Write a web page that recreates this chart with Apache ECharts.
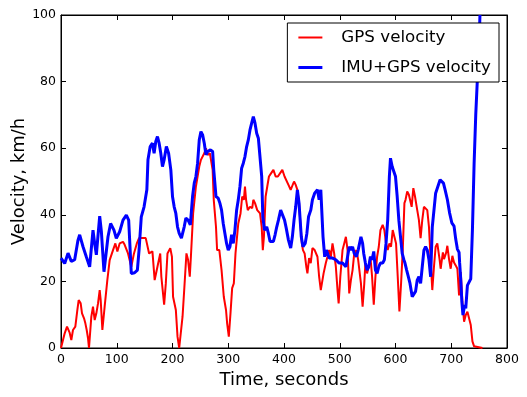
<!DOCTYPE html>
<html>
<head>
<meta charset="utf-8">
<title>Velocity</title>
<script src="https://cdn.jsdelivr.net/npm/echarts@6/dist/echarts.min.js"></script>
<style>
  html, body { margin: 0; padding: 0; background: #fff; }
  #chart { width: 527px; height: 397px; }
</style>
</head>
<body>
<div id="chart"></div>
<script>
// GPS velocity (red)
const gpsTime = [0, 6.6, 10.8, 15.5, 18.5, 21.5, 25.7, 29.3, 31.7, 35.3, 37.7, 41.3, 43.7, 46.1, 48.4, 50.2,
  54.4, 57.4, 60.4, 63.4, 66.4, 69.4, 71.2, 74.2, 78.3, 83.1, 87.3, 93.3, 97.5, 101.1, 105.2, 111.2, 114.2,
  120.2, 126.1, 130.9, 136, 140, 146, 152, 158, 164, 168, 173, 178, 180, 185, 188, 191, 196, 199, 201, 206,
  209, 212, 215, 218, 221, 225, 228, 231, 233, 237, 242, 245, 248, 251, 254, 257, 260, 263, 267, 272, 274,
  278, 280, 284, 288, 292, 296, 298, 301, 304, 307, 310, 313, 318, 322, 325, 328, 330, 332, 335, 339, 343,
  345, 348, 352, 357, 360, 362, 364, 367, 370, 373, 377, 381, 385, 389, 392, 397, 401, 404, 408, 412, 415,
  418, 421, 424, 427, 429, 432, 434, 437, 440, 442, 445, 448, 451, 455, 460, 463, 466, 468, 471, 475, 478,
  481, 484, 487, 490, 493, 496, 498, 501, 505, 508, 511, 514, 517, 520, 523, 526, 530, 533, 538, 541, 544,
  546, 549, 552, 555, 558, 561, 564, 567, 570, 573, 577, 580, 583, 586, 589, 592, 595, 598, 601, 604, 607,
  610, 613, 616, 618, 621, 624, 627, 629, 632, 635, 639, 642, 645, 648, 651, 654, 657, 660, 663, 666, 669,
  672, 675, 679, 681, 685, 687, 691, 693, 696, 699, 702, 705, 708, 711, 714, 717, 720, 723, 726, 729, 732,
  735, 738, 741, 744, 756]
const gpsSpeed = [0, 4.4, 6.4, 4.6, 2.4, 5.4, 6.4, 11.4, 14.4, 13.4, 10.4, 8.9, 7.4, 5.4, 3, 0,
  9.4, 12.4, 8.4, 10.4, 13.4, 17.4, 14.4, 5.4, 12.4, 20.4, 26.4, 29.4, 31.4, 29, 31.4, 31.9, 31,
  28.4, 24.4, 28.4, 31.4, 33, 33, 33, 28.4, 29, 20.4, 24.4, 28.4, 21.4, 13, 19.4, 28.4, 30, 27.4, 15.4, 11.4,
  3.4, 0, 0.5, 9.4, 17.4, 28.4, 26.4, 21.4, 27.4, 40.4, 48.5, 51.5, 54.5, 56.5, 57, 58.5, 60, 58, 58.5, 53.5, 44.5,
  36.4, 29.4, 29.4, 23.4, 15.4, 11.4, 7.4, 3.4, 10.4, 18, 19.4, 28.4, 37.4, 40.4, 45.5, 44.5, 48.5, 44.5, 41.4, 42.4, 42,
  44.5, 43.5, 41.4, 40.4, 36.4, 29.4, 33.4, 45.5, 48.5, 51.5, 52.5, 53.5, 51.5, 51.5, 51.5, 53.5, 51.5, 51.5, 49, 47.5, 48,
  50, 49, 47.5, 43.5, 38.4, 31.4, 29.4, 28.4, 24.4, 22.4, 27, 25.5, 30, 29.4, 27.4, 21.4, 17.4, 19.4, 22.4, 25.5, 27.4,
  29.4, 27.4, 31.4, 28.4, 24.4, 17.4, 13.4, 21.4, 29.4, 31.4, 33.4, 29.4, 16.4, 20.4, 23.4, 28.4, 29.4, 26.5, 19.4, 12.4, 19.4,
  25.5, 22.4, 24.4, 27.4, 21.4, 13, 21.4, 27.4, 30.4, 35.4, 37, 35.4, 31.4, 29.4, 31.4, 30.4, 35.4, 36, 31.4, 21.4, 11,
  19.4, 29.4, 43.5, 44.5, 47, 46, 45.5, 42.4, 48, 45.5, 41.4, 38.4, 33, 38.4, 42.4, 43, 41.4, 36.4, 26.5, 17.4, 24.4,
  30.4, 31.4, 26.7, 23.8, 28.7, 26.7, 28.7, 30.7, 26.7, 23.8, 27.7, 25.7, 24.8, 23.8, 15.8, 22.8, 13.9, 7.9, 9.9, 10.9, 10.4,
  6.9, 2, 0.5, 0, 0]

// IMU+GPS velocity (blue)
const imuTime = [0, 1.8, 6.6, 12.6, 18.5, 24.5, 30.5, 33.5, 39.5, 45.4, 51.4, 57.4, 60.4, 63.4, 69.4, 72.4,
  77.1, 84.3, 89, 95, 99.2, 105.2, 111.2, 117.2, 121.4, 126.1, 132, 137, 140, 144, 149, 154, 156, 160, 164,
  167, 170, 173, 176, 179, 182, 185, 189, 193, 197, 200, 203, 206, 209, 212, 216, 221, 224, 228, 232, 236,
  239, 242, 245, 248, 251, 254, 257, 260, 263, 268, 272, 274, 278, 282, 285, 288, 291, 294, 297, 300, 303,
  306, 309, 312, 315, 318, 321, 324, 327, 330, 333, 336, 339, 342, 345, 348, 351, 354, 357, 360, 362, 365,
  369, 372, 375, 378, 381, 384, 387, 390, 394, 397, 401, 404, 408, 412, 415, 418, 421, 424, 427, 429, 431,
  434, 438, 441, 444, 448, 451, 455, 460, 463, 466, 468, 470, 473, 476, 481, 487, 493, 499, 505, 511, 514,
  517, 520, 523, 526, 530, 533, 538, 541, 543, 546, 549, 552, 555, 558, 561, 564, 567, 570, 573, 577, 580,
  583, 586, 589, 591, 594, 596, 600, 603, 606, 609, 612, 615, 617, 620, 623, 626, 630, 633, 636, 639, 642,
  645, 648, 651, 654, 657, 660, 663, 666, 669, 672, 676, 680, 683, 686, 689, 693, 697, 701, 705, 708, 711,
  714, 715, 717, 719, 721, 724, 726, 729, 732, 735, 738, 741, 744, 747, 750, 751.5]
const imuSpeed = [27, 27.4, 25.4, 28.5, 26, 26.5, 32.4, 34, 30.4, 27.4, 24.4, 35.4, 31.4, 28, 39.6, 35,
  22.9, 33.4, 37.4, 35.4, 32.9, 34.9, 38.4, 39.9, 38.4, 22.4, 22.6, 23.4, 29.4, 39.4, 42.4, 47.5, 56.5, 60.5, 61.5,
  58.5, 62, 63.5, 61.5, 58.5, 54.5, 56.5, 60.5, 58.5, 53.5, 45.5, 42.4, 40.4, 36.4, 34.4, 33, 36.4, 39, 38.4, 37, 45.5,
  49.5, 51.5, 55.5, 62.5, 65, 64, 61.5, 58, 59, 59.5, 59, 53.5, 45.5, 45, 43.5, 41.4, 37.4, 34.4, 31.4, 29.4, 30.4,
  34, 31.4, 35.4, 41.4, 44.5, 48.5, 54, 55.5, 57.5, 60.5, 62.5, 65.5, 67.5, 69.5, 67.5, 64.5, 63, 62.5, 51.5, 39.4, 35.4,
  36.4, 34.4, 32, 31.4, 32, 34, 36.4, 38.4, 41.4, 41.4, 38.4, 36, 32.4, 30, 33.4, 38.4, 42.4, 47.5, 43.5, 38.4, 33.4,
  30.4, 31.4, 34.4, 39.4, 41.4, 44.5, 46.5, 47.5, 44.5, 47.5, 47, 33.4, 27.4, 29.4, 27, 27, 26.5, 25.5, 25.5, 24.4, 27.4,
  30.4, 29.4, 30.4, 28.4, 27.4, 29.4, 33.4, 31.4, 28.4, 25.5, 23.4, 24.4, 27.4, 26.5, 29, 23.4, 22.4, 24.4, 25.5, 25.5, 26.5,
  31.4, 38.4, 51.5, 57, 54.5, 54, 51.5, 45.5, 38.4, 33.4, 28.4, 26.5, 25.5, 23.4, 21.4, 19.4, 15.4, 15.4, 17, 20.4, 21.4,
  19.4, 24.4, 29.4, 30.4, 29.4, 26.5, 21.4, 36.4, 41.4, 46.5, 48.5, 50.5, 51, 49.5, 47.5, 44.6, 40.6, 37.6, 36.6, 32.7, 29.7,
  28.7, 25.7, 20.8, 13.9, 9.9, 12.9, 11.9, 18.8, 19.8, 20.8, 35.6, 55.4, 70.3, 81.2, 92, 100]

const xTicks = { min: 0, max: 800, interval: 100 }
const yTicks = { min: 0, max: 100, interval: 20 }

const font = 'DejaVu Sans'

function pairs (xs, ys) {
  return xs.map((x, i) => [x, ys[i]])
}

const chart = echarts.init(document.getElementById('chart'), null, { renderer: 'canvas' })

const tickStyle = {
  show: true,
  inside: true,
  length: 5,
  lineStyle: { color: '#000', width: 1 }
}
const axisLine = { show: true, onZero: false, lineStyle: { color: '#000', width: 1 } }

const option = {
  animation: false,
  backgroundColor: '#fff',
  grid: {
    left: 61,
    right: 20,
    top: 15,
    bottom: 49,
    containLabel: false,
    outerBoundsMode: 'none',
    show: true,
    borderColor: '#000',
    borderWidth: 1
  },
  legend: {
    orient: 'vertical',
    right: 28,
    top: 23,
    padding: [6, 8, 6, 11],
    itemWidth: 24,
    itemHeight: 16,
    itemGap: 13,
    borderColor: '#000',
    borderWidth: 1,
    borderRadius: 0,
    backgroundColor: '#fff',
    textStyle: {
      fontFamily: font,
      fontSize: 16.7,
      color: '#000',
      lineHeight: 16,
      padding: [0, 0, 0, 14]
    },
    // flat line icons, 2px red and 3px blue like the plotted lines
    data: [
      { name: 'GPS velocity', icon: 'path://M0 0H24V2H0Z' },
      { name: 'IMU+GPS velocity', icon: 'path://M0 0H24V3H0Z' }
    ]
  },
  xAxis: [
    {
      type: 'value',
      min: xTicks.min,
      max: xTicks.max,
      interval: xTicks.interval,
      name: 'Time, seconds',
      nameLocation: 'middle',
      nameGap: 23,
      nameMoveOverlap: false,
      nameTextStyle: { fontFamily: font, fontSize: 18, color: '#000' },
      axisLine: axisLine,
      axisTick: tickStyle,
      splitLine: { show: false },
      axisLabel: { fontFamily: font, fontSize: 12.5, color: '#000', margin: 5 }
    },
    {
      type: 'value',
      position: 'top',
      min: xTicks.min,
      max: xTicks.max,
      interval: xTicks.interval,
      axisLine: axisLine,
      axisTick: tickStyle,
      splitLine: { show: false },
      axisLabel: { show: false }
    }
  ],
  yAxis: [
    {
      type: 'value',
      min: yTicks.min,
      max: yTicks.max,
      interval: yTicks.interval,
      name: 'Velocity, km/h',
      nameLocation: 'middle',
      nameGap: 33,
      nameMoveOverlap: false,
      nameTextStyle: { fontFamily: font, fontSize: 18, color: '#000' },
      axisLine: axisLine,
      axisTick: tickStyle,
      splitLine: { show: false },
      axisLabel: { fontFamily: font, fontSize: 12.5, color: '#000', margin: 5 }
    },
    {
      type: 'value',
      position: 'right',
      min: yTicks.min,
      max: yTicks.max,
      interval: yTicks.interval,
      axisLine: axisLine,
      axisTick: tickStyle,
      splitLine: { show: false },
      axisLabel: { show: false }
    }
  ],
  series: [
    {
      name: 'GPS velocity',
      type: 'line',
      xAxisIndex: 0,
      yAxisIndex: 0,
      symbol: 'none',
      clip: true,
      lineStyle: { color: '#ff0000', width: 2 },
      itemStyle: { color: '#ff0000' },
      data: pairs(gpsTime, gpsSpeed)
    },
    {
      name: 'IMU+GPS velocity',
      type: 'line',
      xAxisIndex: 0,
      yAxisIndex: 0,
      symbol: 'none',
      clip: true,
      lineStyle: { color: '#0000ff', width: 3 },
      itemStyle: { color: '#0000ff' },
      data: pairs(imuTime, imuSpeed)
    }
  ]
}

chart.setOption(option)
</script>
</body>
</html>
